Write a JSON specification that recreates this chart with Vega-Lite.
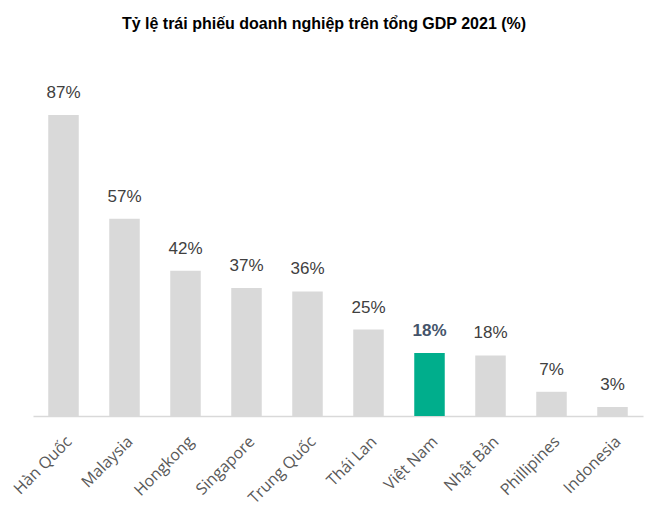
{
  "$schema": "https://vega.github.io/schema/vega-lite/v6.json",
  "autosize": {"type": "none"},
  "padding": {"left": 33, "top": 70, "right": 7, "bottom": 103},
  "width": 610,
  "height": 346,
  "background": "white",
  "title": {
    "text": "Tỷ lệ trái phiếu doanh nghiệp trên tổng GDP 2021 (%)",
    "font": "Liberation Sans",
    "fontSize": 16,
    "fontWeight": "bold",
    "color": "#000000",
    "anchor": "middle",
    "dx": -14,
    "offset": 38
  },
  "data": {
    "values": [
      {"country": "Hàn Quốc", "value": 87, "label": "87%", "hl": "no"},
      {"country": "Malaysia", "value": 57, "label": "57%", "hl": "no"},
      {"country": "Hongkong", "value": 42, "label": "42%", "hl": "no"},
      {"country": "Singapore", "value": 37, "label": "37%", "hl": "no"},
      {"country": "Trung Quốc", "value": 36, "label": "36%", "hl": "no"},
      {"country": "Thái Lan", "value": 25, "label": "25%", "hl": "no"},
      {"country": "Việt Nam", "value": 18.2, "label": "18%", "hl": "yes"},
      {"country": "Nhật Bản", "value": 17.5, "label": "18%", "hl": "no"},
      {"country": "Phillipines", "value": 7, "label": "7%", "hl": "no"},
      {"country": "Indonesia", "value": 2.6, "label": "3%", "hl": "no"}
    ]
  },
  "encoding": {
    "x": {
      "field": "country",
      "type": "nominal",
      "sort": null,
      "scale": {"paddingInner": 0.5, "paddingOuter": 0.25},
      "axis": {
        "title": null,
        "labelAngle": -45,
        "labelFont": "Open Sans",
        "labelFontSize": 16,
        "labelColor": "#595959",
        "labelPadding": 17,
        "ticks": false,
        "domainColor": "#D9D9D9",
        "domainWidth": 1.5,
        "grid": false
      }
    },
    "y": {
      "field": "value",
      "type": "quantitative",
      "scale": {"domain": [0, 100]},
      "axis": null
    }
  },
  "layer": [
    {
      "mark": {"type": "bar"},
      "encoding": {
        "color": {
          "field": "hl",
          "type": "nominal",
          "scale": {"domain": ["no", "yes"], "range": ["#D9D9D9", "#00AE8C"]},
          "legend": null
        }
      }
    },
    {
      "transform": [{"filter": "datum.hl === 'no'"}],
      "mark": {"type": "text", "baseline": "alphabetic", "dy": -17, "font": "Liberation Sans", "fontSize": 17, "color": "#404040"},
      "encoding": {
        "text": {"field": "label"}
      }
    },
    {
      "transform": [{"filter": "datum.hl === 'yes'"}],
      "mark": {"type": "text", "baseline": "alphabetic", "dy": -17, "font": "Liberation Sans", "fontSize": 17, "fontWeight": "bold", "color": "#44546A"},
      "encoding": {
        "text": {"field": "label"}
      }
    }
  ],
  "config": {"view": {"stroke": null}}
}
